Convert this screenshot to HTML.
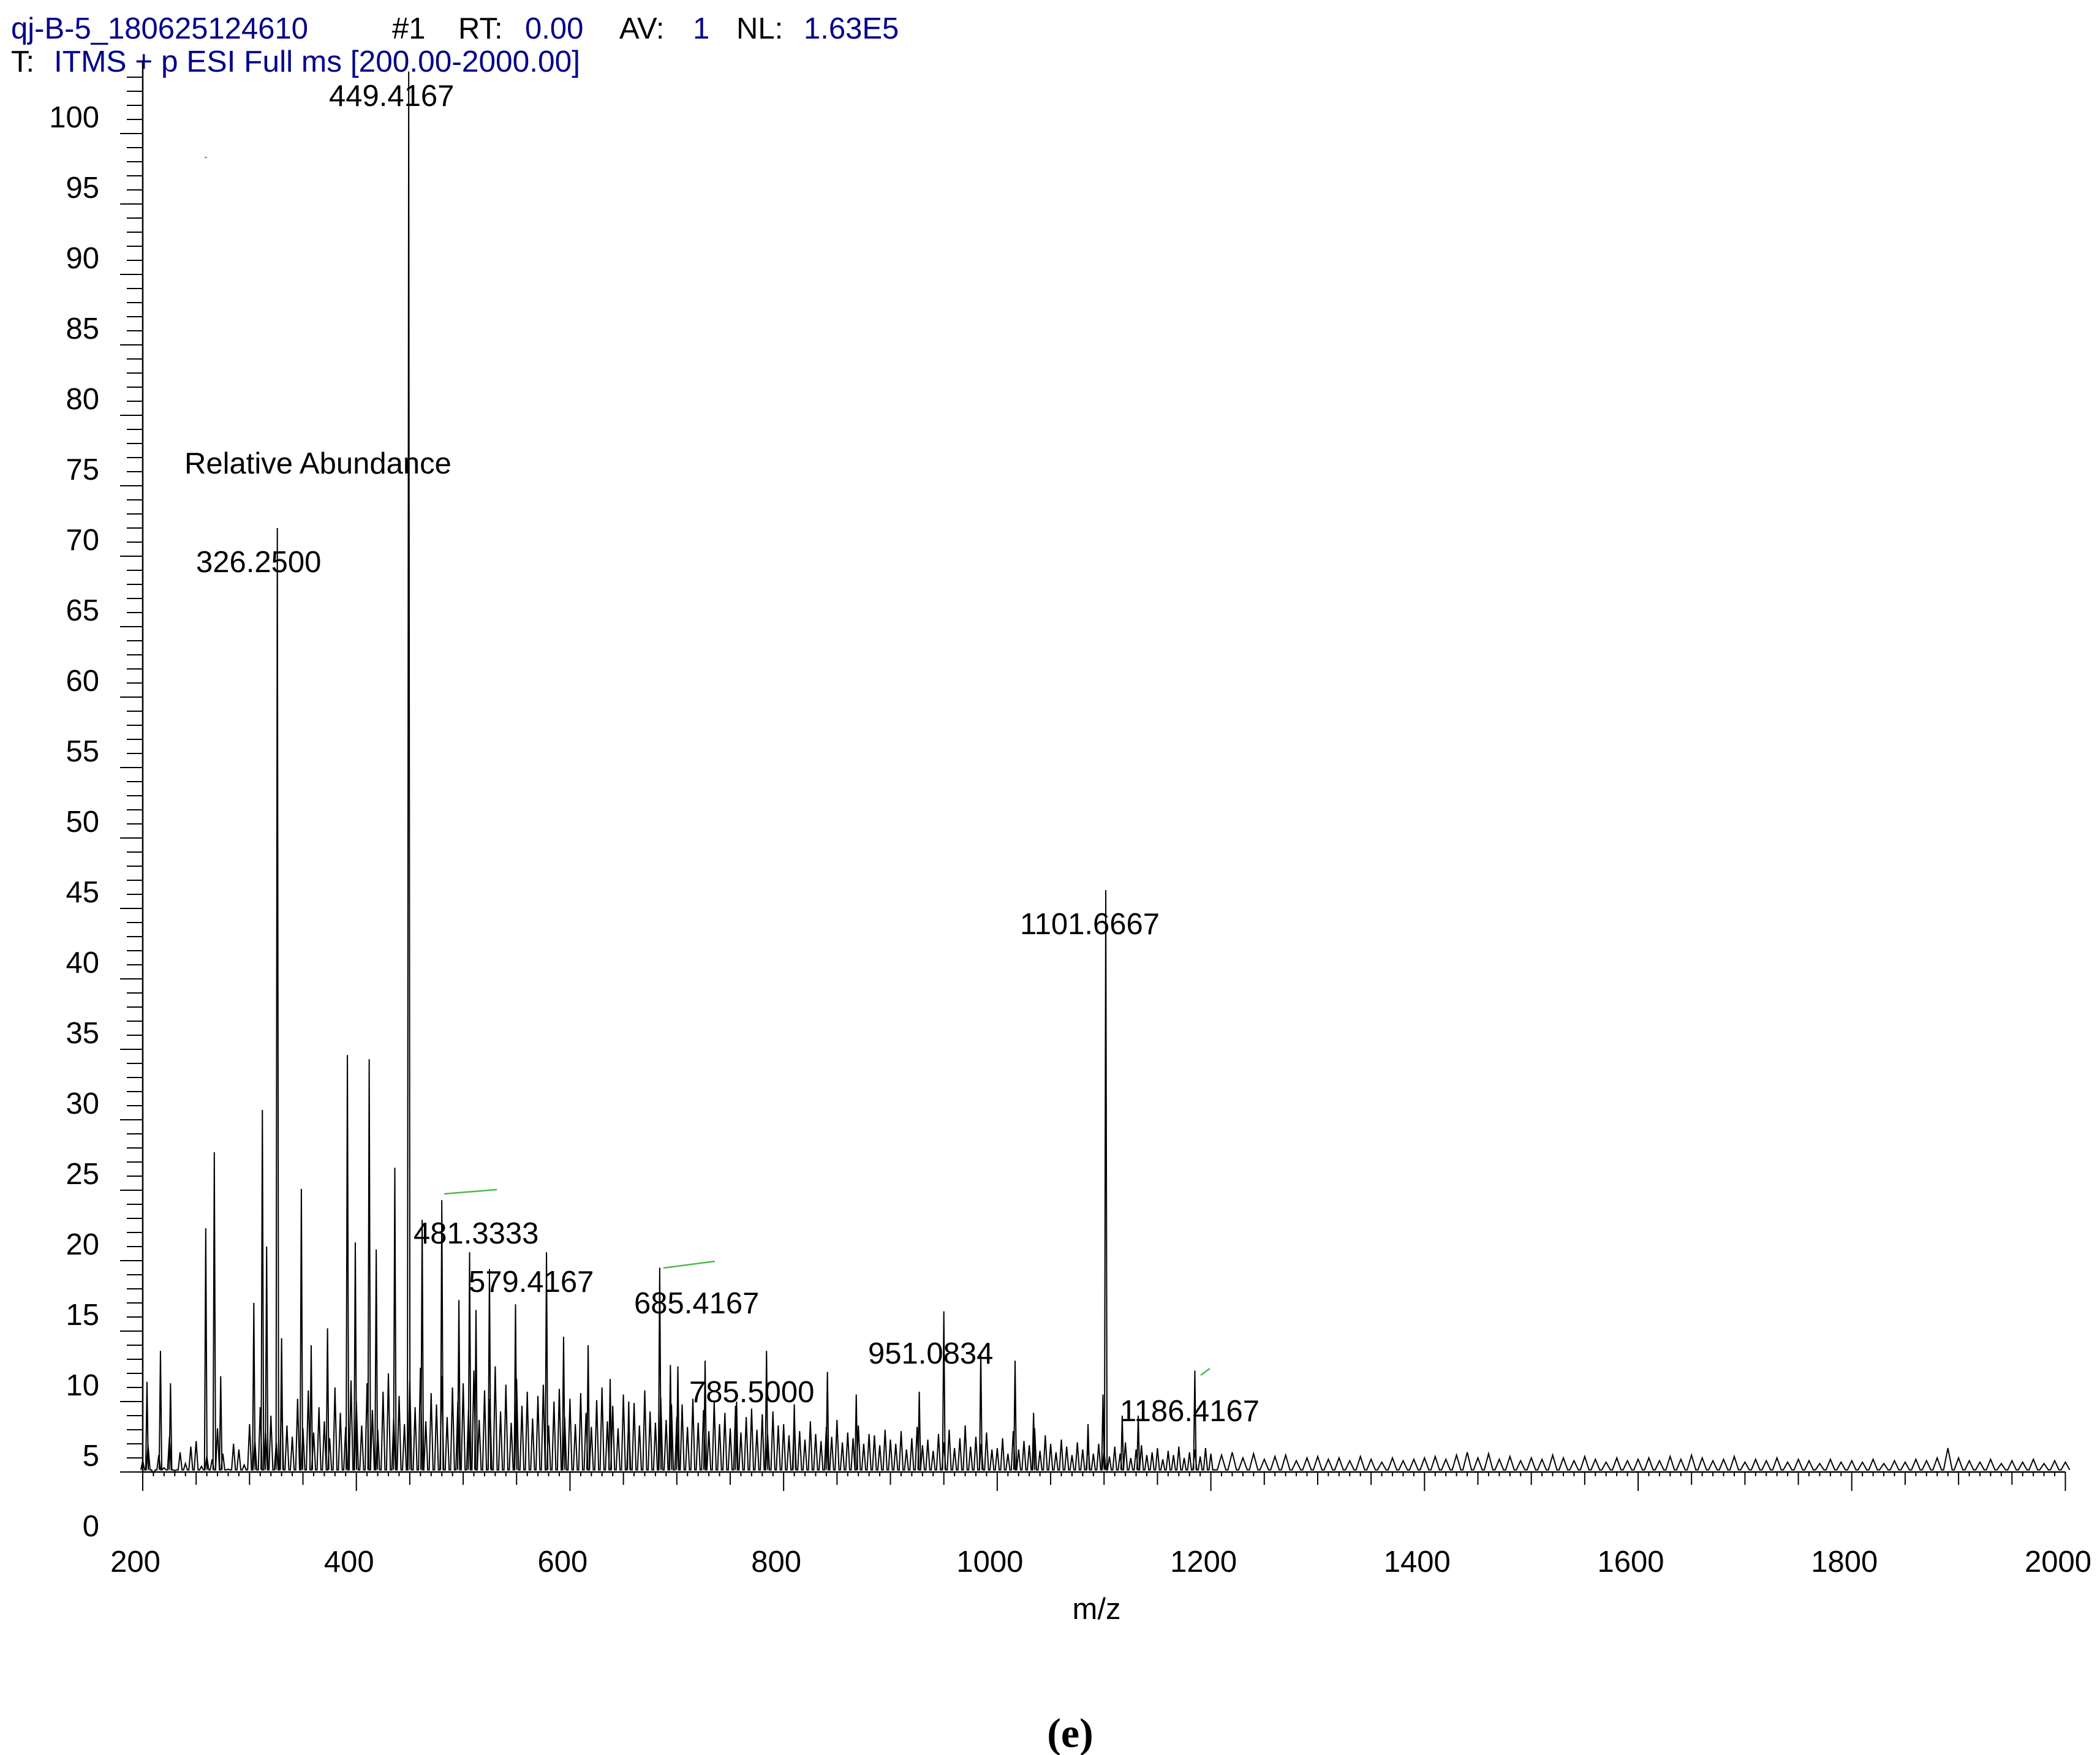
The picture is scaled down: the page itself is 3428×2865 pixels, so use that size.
<!DOCTYPE html>
<html><head><meta charset="utf-8"><style>
html,body{margin:0;padding:0;background:#fff;}
svg{display:block;}
text{font-family:"Liberation Sans",Arial,sans-serif;font-size:49px;fill:#000;}
.blue{fill:#00008b;}
</style></head><body>
<svg id="chart" width="3428" height="2865" viewBox="0 0 3428 2865" xmlns="http://www.w3.org/2000/svg">
<g>
<text x="18" y="63" class="blue">qj-B-5_180625124610</text>
<text x="640" y="63">#1</text>
<text x="748" y="63">RT:</text>
<text x="857" y="63" class="blue">0.00</text>
<text x="1011" y="63">AV:</text>
<text x="1131" y="63" class="blue">1</text>
<text x="1202" y="63">NL:</text>
<text x="1312" y="63" class="blue">1.63E5</text>
<text x="18" y="117">T:</text>
<text x="88" y="117" class="blue" textLength="859" lengthAdjust="spacingAndGlyphs">ITMS + p ESI Full ms [200.00-2000.00]</text>
</g>
<g id="axes"></g>
<g id="series"></g>
<g id="labels"></g>
<text x="301" y="773">Relative Abundance</text>
<text x="1790" y="2643" text-anchor="middle">m/z</text>
<text x="1747" y="2852" text-anchor="middle" style="font-family:'Liberation Serif',serif;font-weight:bold;font-size:68px">(e)</text>
<line x1="725" y1="1949" x2="811" y2="1942" stroke="#4cb84c" stroke-width="2.5"/>
<line x1="1083" y1="2070" x2="1167" y2="2059" stroke="#4cb84c" stroke-width="2.5"/>
<line x1="1960" y1="2245" x2="1975" y2="2234" stroke="#4cb84c" stroke-width="2.5"/>
<line x1="334" y1="257" x2="338" y2="257" stroke="#4cb84c" stroke-width="2"/>
</svg>
<script>
const xTicks = [200,400,600,800,1000,1200,1400,1600,1800,2000];
const yTicks = [0,5,10,15,20,25,30,35,40,45,50,55,60,65,70,75,80,85,90,95,100];
const peakMz = [204,216.6,226,259,267,273,304,312,316,326,330,348.5,357.7,373,391.6,399,412,418.6,436,449,461.6,480,496,506,512,524.6,549,578,594,617,637.6,655,684,694,701,726.5,756,784,810,841,868,927,950,984.6,1016.7,1034,1085,1099,1101.6,1117,1132,1185];
const peakInt = [11.4,13.6,11.3,22.3,27.7,11.8,17,30.7,21,72,14.5,25.1,14,15.2,34.6,21.3,34.3,20.8,26.6,104.4,22.9,24.3,17.2,20.6,16.5,19.4,16.9,20.6,14.6,14,11.6,10,19.5,12.6,12.5,12.9,10,13.6,9.8,12.1,10.5,10.7,16.4,13.5,12.9,9.2,8.4,10.5,46.3,9,9,12.2];
const noiseA = [5.8,6.9,4.9,6.2,5.3,7.5,5.1,6.4,5.6,6.8,7.2,5.4,6.1,5.9,8.1,6.3,5.2,7.0,6.6,5.5,
8.4,7.2,9.6,7.9,9.0,7.1,10.4,8.3,7.5,10.2,8.1,10.8,7.8,9.6,8.6,7.4,11.0,9.2,8.2,11.5,
10.0,8.3,11.3,9.4,8.0,10.7,12.0,8.8,10.4,8.4,11.5,9.6,12.4,8.6,10.6,9.8,11.8,8.9,11.0,10.0,
11.3,9.4,12.2,8.7,10.8,10.2,12.5,9.3,11.2,8.5,11.6,9.7,10.7,8.8,10.4,11.2,8.3,10.0,10.9,8.9,
10.2,8.4,10.6,9.2,8.2,10.1,11.0,8.6,9.7,8.1,10.5,8.8,9.9,8.3,10.8,9.3,8.5,10.3,8.7,9.8,
8.9,9.8,8.2,10.2,8.5,9.4,7.9,10.0,8.4,9.2,8.1,9.7,7.8,8.9,9.5,8.0,9.1,7.7,9.3,8.3,
8.4,7.6,8.9,7.9,7.3,8.6,7.7,7.2,8.2,7.5,8.7,7.1,7.8,7.4,8.3,7.0,7.7,7.6,6.9,8.0,
7.3,7.0,7.9,6.6,7.4,8.2,6.9,7.3,6.5,7.7,7.1,8.0,6.7,7.4,8.3,6.8,7.5,7.0,7.8,6.6,
6.7,7.4,6.3,7.9,6.6,7.2,6.9,8.1,6.5,7.6,7.0,6.4,7.3,6.8,6.2,7.1,6.6,6.9,6.3,7.0,
6.5,6.1,6.8,6.3,7.1,6.0,6.6,6.9,6.2,6.4,6.7,5.9,6.5,6.2,6.8,6.0,6.4,6.6,6.1,6.7,
6.3];
const noiseB = [6.2,6.4,6.0,6.3,5.9,6.1,6.2,5.8,6.0,6.1,
5.9,6.0,5.8,6.1,5.9,5.7,6.0,5.8,5.9,6.0,
6.1,5.9,6.2,6.4,6.0,6.3,5.9,6.1,5.8,6.0,
5.9,6.2,6.0,5.8,6.1,5.9,5.7,6.0,5.8,5.9,
6.0,5.8,6.1,5.9,6.2,6.0,5.8,5.9,6.1,5.7,
5.9,5.8,6.0,5.7,5.9,5.8,5.6,5.9,5.7,5.8,
5.7,5.9,5.6,5.8,5.7,5.9,5.8,6.0,6.7,6.0,
5.8,5.7,5.9,5.6,5.8,5.7,5.9,5.6,5.8,5.7];
const labelText = ["449.4167","326.2500","1101.6667","481.3333","579.4167","685.4167","785.5000","951.0834","1186.4167"];

const NS = "http://www.w3.org/2000/svg";
const X0 = 233, XS = 1.7436, Y100 = 218, YS = 23;
function xs(m){ return X0 + (m - 200) * XS; }
function ys(v){ return Y100 + (100 - v) * YS; }
function mk(tag, attrs, parent){
  const e = document.createElementNS(NS, tag);
  for (const k in attrs) e.setAttribute(k, attrs[k]);
  parent.appendChild(e);
  return e;
}
const axes = document.getElementById('axes');
const series = document.getElementById('series');
const labels = document.getElementById('labels');
const BASE = 5.15;

let a = mk('line', {x1:X0, y1:100, x2:X0, y2:ys(5), stroke:'#000', 'stroke-width':2.5}, axes);


a = mk('line', {x1:X0, y1:ys(5), x2:xs(2000), y2:ys(5), stroke:'#000', 'stroke-width':2.5}, axes);



for (let v = 5; v <= 104; v++) {
  const major = v % 5 === 0;
  const t = mk('line', {x1:X0 - (major ? 37 : 26), y1:ys(v), x2:X0, y2:ys(v), stroke:'#000', 'stroke-width':2}, axes);
  
  
}
yTicks.forEach(v => {
  const t = mk('text', {x:162, y:ys(v) - 10, 'text-anchor':'end'}, axes);
  t.textContent = String(v);
  
  
});
const yA = ys(5);
for (let m = 200; m <= 2000; m += 10) {
  const len = (m % 200 === 0) ? 31 : (m % 50 === 0 ? 21 : 7);
  const t = mk('line', {x1:xs(m), y1:yA, x2:xs(m), y2:yA + len, stroke:'#000', 'stroke-width':2}, axes);
  
  
}
xTicks.forEach(m => {
  const t = mk('text', {x:xs(m) - 12, y:2566, 'text-anchor':'middle'}, axes);
  t.textContent = String(m);
  
  
});

let d = '';
noiseA.forEach((v, i) => {
  const m = 200 + 5 * i;
  d += (i ? 'L' : 'M') + xs(m - 1.8).toFixed(1) + ',' + ys(BASE).toFixed(1) +
       'L' + xs(m).toFixed(1) + ',' + ys(v).toFixed(1) +
       'L' + xs(m + 1.8).toFixed(1) + ',' + ys(BASE).toFixed(1);
});
noiseB.forEach((v, i) => {
  const m = 1210 + 10 * i;
  d += 'L' + xs(m - 4).toFixed(1) + ',' + ys(BASE).toFixed(1) +
       'L' + xs(m).toFixed(1) + ',' + ys(v).toFixed(1) +
       'L' + xs(m + 4).toFixed(1) + ',' + ys(BASE).toFixed(1);
});
const noisePath = mk('path', {d:d, fill:'none', stroke:'#000', 'stroke-width':2}, series);



peakMz.forEach((m, i) => {
  const v = peakInt[i];
  const p = mk('path', {d:'M' + xs(m - 1.2) + ',' + ys(BASE) + 'L' + xs(m) + ',' + ys(v) + 'L' + xs(m + 1.2) + ',' + ys(BASE),
    fill:'none', stroke:'#000', 'stroke-width':2}, series);
  
  
});

const labelPos = [[537,173],[320,934],[1665,1525],[675,2030],[765,2109],[1035,2144],[1125,2289],[1417,2226],[1828,2320]];
labelText.forEach((s, i) => {
  const t = mk('text', {x:labelPos[i][0], y:labelPos[i][1]}, labels);
  t.textContent = s;
  
  
});
</script>
</body></html>
